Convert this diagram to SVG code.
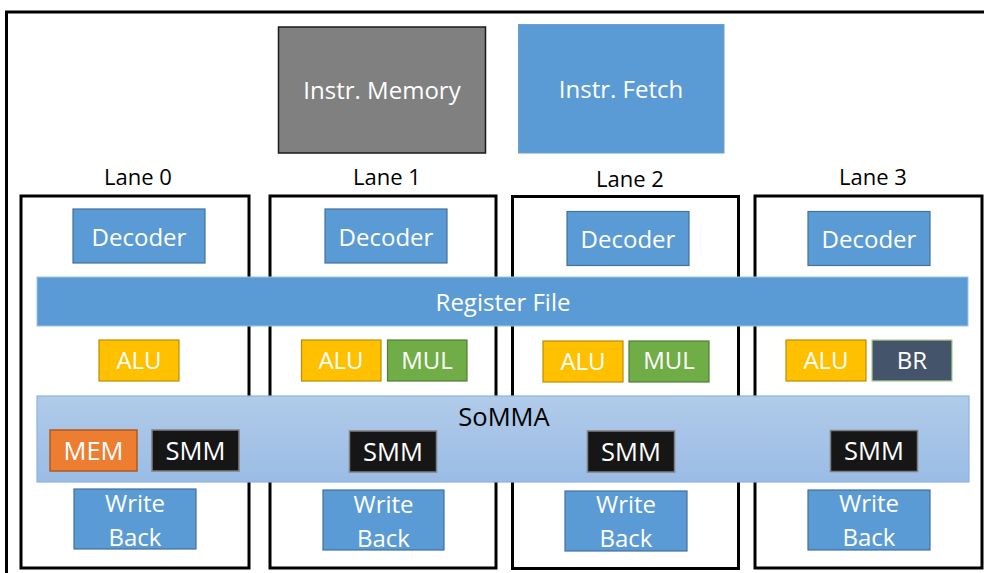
<svg xmlns="http://www.w3.org/2000/svg" width="984" height="573" viewBox="0 0 984 573">
<defs>
<linearGradient id="gSomma" x1="0" y1="0" x2="0" y2="1">
<stop offset="0" stop-color="#B1CBE9"/>
<stop offset="1" stop-color="#9ABCE5"/>
</linearGradient>
</defs>
<style>
text{font-family:"Open Sans","Noto Sans","DejaVu Sans",sans-serif;font-size:24px;text-anchor:middle;fill:#FFFFFF}
.lbl{fill:#000000;font-size:22px}
.big{font-size:25.5px}
.lane{fill:#FFFFFF;stroke:#000000;stroke-width:3}
.blue{fill:#5B9BD5;stroke:#41719C;stroke-width:1.2}
.alu{fill:#FFC000;stroke:#BC8C00;stroke-width:1.2}
.mul{fill:#70AD47;stroke:#507E32;stroke-width:1.2}
.br{fill:#44546A;stroke:#A9D18E;stroke-width:1.2}
.smm{fill:#161616;stroke:#7F7F7F;stroke-width:1.5}
.mem{fill:#ED7D31;stroke:#AE5A21;stroke-width:1.5}
</style>
<rect x="0" y="0" width="984" height="573" fill="#FFFFFF"/>
<rect x="6.5" y="12" width="990" height="580" fill="#FFFFFF" stroke="#000000" stroke-width="3"/>

<g id="instr-memory">
<rect x="278.5" y="27" width="207" height="126" fill="#808080" stroke="#1A1A1A" stroke-width="1.5"/>
<text x="382" y="99">Instr. Memory</text>
</g>
<g id="instr-fetch">
<rect x="518.5" y="24.5" width="205.5" height="128.5" fill="#5B9BD5" stroke="#6D9FCF" stroke-width="1"/>
<text x="621" y="98">Instr. Fetch</text>
</g>

<g id="lane0">
<text class="lbl" x="138" y="185">Lane 0</text>
<rect class="lane" x="21" y="196" width="228" height="372"/>
</g>
<g id="lane1">
<text class="lbl" x="387" y="185">Lane 1</text>
<rect class="lane" x="270" y="196" width="226" height="372"/>
</g>
<g id="lane2">
<text class="lbl" x="630" y="187">Lane 2</text>
<rect class="lane" x="512.5" y="196.5" width="226" height="372"/>
</g>
<g id="lane3">
<text class="lbl" x="873" y="185">Lane 3</text>
<rect class="lane" x="755" y="196" width="227" height="372"/>
</g>

<g id="decoder0"><rect class="blue" x="73" y="209" width="132" height="54"/><text x="139" y="245.5">Decoder</text></g>
<g id="decoder1"><rect class="blue" x="325" y="209" width="122" height="54"/><text x="386" y="245.5">Decoder</text></g>
<g id="decoder2"><rect class="blue" x="567" y="211.5" width="122" height="54"/><text x="628" y="248">Decoder</text></g>
<g id="decoder3"><rect class="blue" x="808" y="211.5" width="122" height="54"/><text x="869" y="248">Decoder</text></g>

<g id="register-file">
<rect x="37" y="277" width="931" height="49" fill="#5B9BD5" stroke="#9DC3E6" stroke-width="1"/>
<text x="503" y="311">Register File</text>
</g>

<g id="alu0"><rect class="alu" x="99" y="340" width="80" height="41"/><text x="139" y="369">ALU</text></g>
<g id="alu1"><rect class="alu" x="301.5" y="340" width="79.5" height="41"/><text x="341" y="369">ALU</text></g>
<g id="mul1"><rect class="mul" x="387.5" y="340" width="79.5" height="41"/><text x="427" y="369">MUL</text></g>
<g id="alu2"><rect class="alu" x="543" y="341" width="80" height="41"/><text x="583" y="370">ALU</text></g>
<g id="mul2"><rect class="mul" x="629" y="341" width="80" height="41"/><text x="669" y="369">MUL</text></g>
<g id="alu3"><rect class="alu" x="786" y="340" width="80" height="41"/><text x="826" y="369">ALU</text></g>
<g id="br3"><rect class="br" x="872" y="340" width="80" height="41"/><text x="912" y="369">BR</text></g>

<g id="somma">
<rect x="37" y="396" width="932" height="86" fill="url(#gSomma)" stroke="#8DB3E0" stroke-width="1.2"/>
<text class="big" x="504" y="426" style="fill:#000000">SoMMA</text>
</g>

<g id="mem0"><rect class="mem" x="50" y="430" width="87" height="41"/><text class="big" x="93.5" y="460">MEM</text></g>
<g id="smm0"><rect class="smm" x="152" y="430" width="87" height="41"/><text class="big" x="195.5" y="460">SMM</text></g>
<g id="smm1"><rect class="smm" x="349.5" y="431" width="87" height="41"/><text class="big" x="393" y="461">SMM</text></g>
<g id="smm2"><rect class="smm" x="587.5" y="431" width="87" height="41"/><text class="big" x="631" y="461">SMM</text></g>
<g id="smm3"><rect class="smm" x="830.5" y="430.5" width="87" height="41"/><text class="big" x="874" y="460">SMM</text></g>

<g id="writeback0"><rect class="blue" x="74" y="489" width="122" height="60"/><text x="135" y="512">Write</text><text x="135" y="546">Back</text></g>
<g id="writeback1"><rect class="blue" x="323" y="490" width="121" height="60"/><text x="383.5" y="513">Write</text><text x="383.5" y="547">Back</text></g>
<g id="writeback2"><rect class="blue" x="565" y="491" width="122" height="60"/><text x="626" y="513">Write</text><text x="626" y="547">Back</text></g>
<g id="writeback3"><rect class="blue" x="808" y="490" width="122" height="60"/><text x="869" y="512">Write</text><text x="869" y="546">Back</text></g>

<g id="connectors"/>
</svg>
